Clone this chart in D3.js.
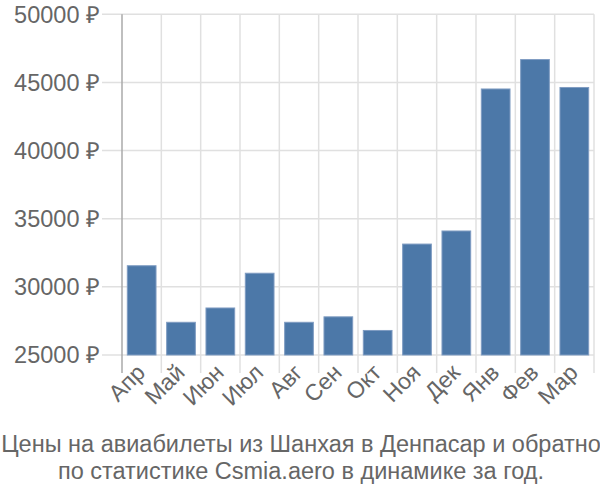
<!DOCTYPE html>
<html><head><meta charset="utf-8">
<script src="https://cdn.jsdelivr.net/npm/d3@7"></script>
<style>body{margin:0;background:#fff}</style>
</head><body>
<svg id="c" width="600" height="500"></svg>
<script>
const categories = ["Апр","Май","Июн","Июл","Авг","Сен","Окт","Ноя","Дек","Янв","Фев","Мар"];
const prices = [31550, 27400, 28450, 31000, 27400, 27800, 26800, 33140, 34100, 44520, 46680, 44630];
const yTicks = [25000, 30000, 35000, 40000, 45000, 50000];
const titleLines = ["Цены на авиабилеты из Шанхая в Денпасар и обратно", "по статистике Csmia.aero в динамике за год."];

const svg = d3.select("#c");
const font = "'Liberation Sans', Arial, sans-serif";
const L = 122, R = 594, T = 14.3, B = 355;
const x = d3.scaleBand().domain(categories).range([L, R]).paddingInner(0.27).paddingOuter(0.135);
const xg = d3.scaleBand().domain(categories).range([L, R]);
const y = d3.scaleLinear().domain([25000, 50000]).range([B, T]);

// horizontal grid
svg.append("g").selectAll("line").data(yTicks).join("line")
  .attr("x1", 102).attr("x2", R).attr("y1", d => y(d)).attr("y2", d => y(d))
  .attr("stroke", "#e0e0e0").attr("stroke-width", 1.5);
// vertical grid
svg.append("g").selectAll("line").data(categories.slice(1).concat(["_end"])).join("line")
  .attr("x1", (d,i) => L + (i+1)*xg.step()).attr("x2", (d,i) => L + (i+1)*xg.step())
  .attr("y1", T).attr("y2", 373)
  .attr("stroke", "#e0e0e0").attr("stroke-width", 1.5);
// left axis line
svg.append("line").attr("x1", L).attr("x2", L).attr("y1", T).attr("y2", 373)
  .attr("stroke", "#aaa").attr("stroke-width", 1.5);

// y labels
svg.append("g").selectAll("text").data(yTicks).join("text")
  .attr("x", 100).attr("y", d => y(d)).attr("dy", "0.35em")
  .attr("text-anchor", "end").attr("font-family", font).attr("font-size", 23.5)
  .attr("fill", "#666").text(d => d + " ₽");

// bars
svg.append("g").selectAll("rect").data(prices).join("rect")
  .attr("x", (d,i) => x(categories[i])).attr("width", x.bandwidth())
  .attr("y", d => y(d)).attr("height", d => B - y(d))
  .attr("fill", "#4c78a8").attr("stroke", "#7f9cc2").attr("stroke-width", 1);

// x labels
svg.append("g").selectAll("text").data(categories).join("text")
  .attr("transform", d => `translate(${xg(d) + xg.bandwidth()/2 + 5},${374}) rotate(-45)`)
  .attr("text-anchor", "end").attr("font-family", font).attr("font-size", 23)
  .attr("fill", "#666").text(d => d);

// title
svg.append("g").selectAll("text").data(titleLines).join("text")
  .attr("x", 301).attr("y", (d,i) => 452 + i*27)
  .attr("text-anchor", "middle").attr("font-family", font).attr("font-size", 23.5)
  .attr("fill", "#666").text(d => d);
</script>
</body></html>
